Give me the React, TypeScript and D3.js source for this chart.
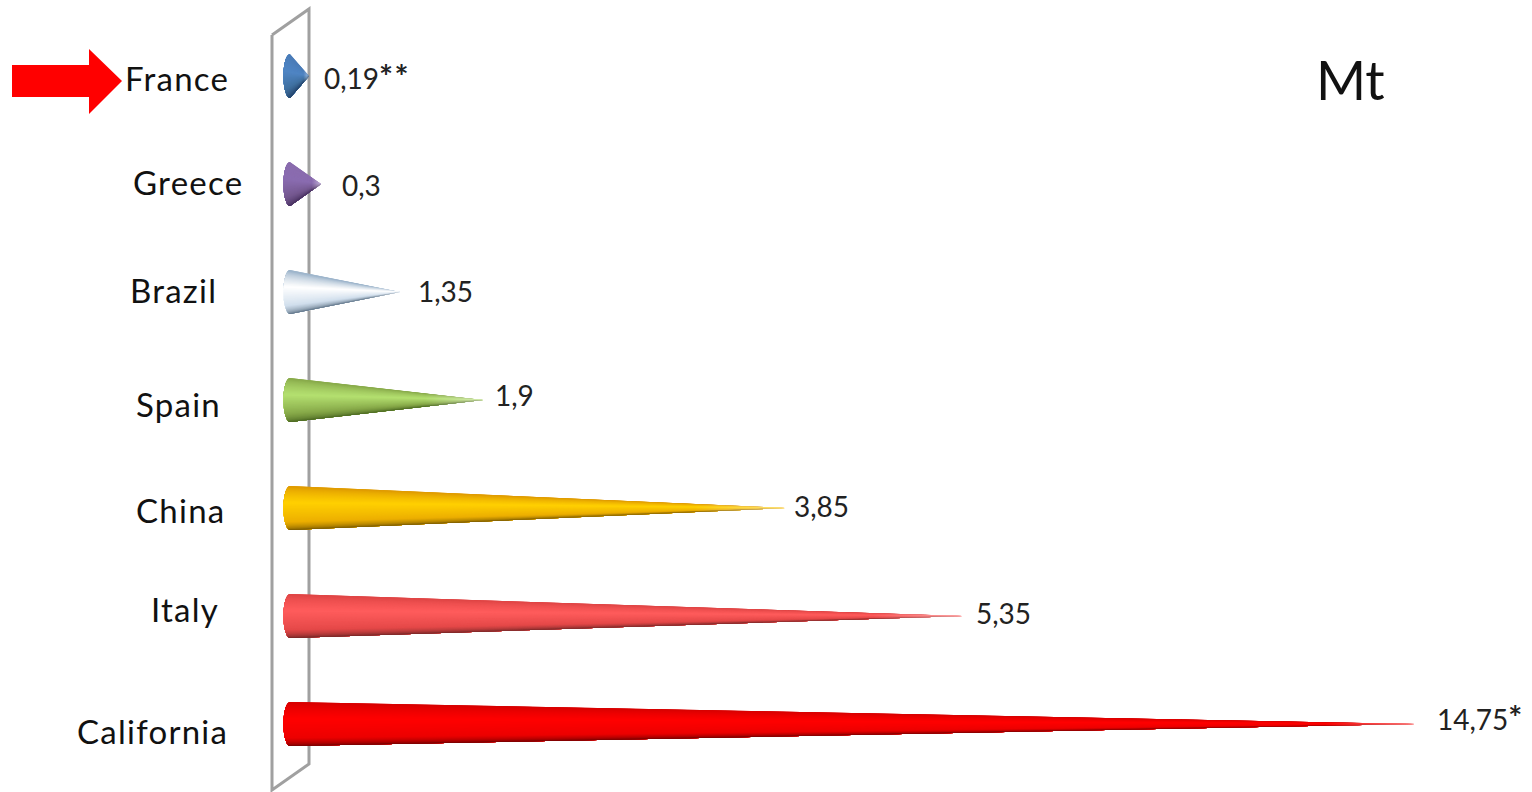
import React from "react";
import * as d3 from "d3";

// Cone bar chart of production in megatonnes.
const categories = ["France", "Greece", "Brazil", "Spain", "China", "Italy", "California"];
const values = [0.19, 0.3, 1.35, 1.9, 3.85, 5.35, 14.75];
const valueLabels = ["0,19**", "0,3", "1,35", "1,9", "3,85", "5,35", "14,75*"];
const unitLabel = "Mt";

// Shade ramps across each cone: upper rim, highlight, body, lower rim.
const coneTop = ["#4a7cb8", "#8a6cae", "#9fb6cc", "#8aac4c", "#e09c00", "#e04646", "#d80000"];
const coneLight = ["#4f85c4", "#8a6cb0", "#ffffff", "#b4e070", "#ffd000", "#ff5c5c", "#ff0000"];
const coneBody = ["#40709f", "#74588f", "#d0deec", "#86a848", "#ecae00", "#e44848", "#ec0000"];
const coneRim = ["#24446c", "#46305e", "#5a6e82", "#46621f", "#6e5200", "#682424", "#680000"];

// The value axis has uneven spacing, so it is calibrated through one stop per category.
const axisStops = [0, ...values];
const axisRange = [290, 309, 321, 400, 483, 785, 962, 1415];

const labelPos = [
  [125, 91], [133, 195], [130, 303], [136, 417], [136, 523], [151, 622], [77, 744],
];
const valuePos = [
  [324, 89], [342, 196], [418, 302], [495, 406], [794, 517], [976, 624], [1437, 730],
];

const FONT = "Lato, 'Open Sans', sans-serif";
const CONE_R = 22;
const CONE_RX = 6.5;
const FAN = 48;

function Cone({ i, x, y }: { i: number; x: d3.ScaleLinear<number, number>; y: d3.ScalePoint<string> }) {
  const cy = y(categories[i]) as number;
  const cx = x(0);
  const tip = x(values[i]);
  const shade = d3
    .scaleLinear<string>()
    .domain([0, 0.1, 0.42, 0.72, 1])
    .range([coneTop[i], coneTop[i], coneLight[i], coneBody[i], coneRim[i]])
    .interpolate(d3.interpolateRgb);
  // Each slice runs on to the lower rim, so the next one paints over it without a seam.
  const rim = d3.range(FAN + 1).map((k) => {
    const a = -Math.PI / 2 + (Math.PI * k) / FAN;
    return [cx - CONE_RX * Math.cos(a), cy + CONE_R * Math.sin(a)] as [number, number];
  });
  const slices = d3.range(FAN).map((k) => ({
    d: d3.line()([[tip, cy], ...rim.slice(k)] as [number, number][]) + "Z",
    color: shade((k + 0.5) / FAN),
  }));
  const maskId = `cone-fade-${i}`;
  const fadeStart = tip - Math.min(90, (tip - cx) * 0.3);
  return (
    <g>
      <defs>
        <linearGradient id={`${maskId}-g`} gradientUnits="userSpaceOnUse" x1={fadeStart} x2={tip} y1={0} y2={0}>
          <stop offset={0} stopColor="#fff" />
          <stop offset={1} stopColor="#888" />
        </linearGradient>
        <mask id={maskId} maskUnits="userSpaceOnUse" x={270} y={cy - 30} width={1200} height={60}>
          <rect x={270} y={cy - 30} width={1200} height={60} fill={`url(#${maskId}-g)`} />
        </mask>
      </defs>
      <g mask={`url(#${maskId})`}>
        {slices.map((s, k) => (
          <path key={k} d={s.d} fill={s.color} />
        ))}
      </g>
    </g>
  );
}

export default function App() {
  const x = d3.scaleLinear().domain(axisStops).range(axisRange);
  const y = d3.scalePoint<string>().domain(categories).range([76, 724]);

  const wall = d3.line()([
    [272, 35], [309, 9], [309, 764], [272, 790], [272, 35],
  ] as [number, number][]) as string;
  const pointer = d3.line()([
    [12, 65], [89, 65], [89, 49], [122, 81], [89, 114], [89, 97], [12, 97],
  ] as [number, number][]) as string;

  return (
    <svg
      width={1532}
      height={792}
      style={{ position: "absolute", left: 0, top: 0, background: "#fff" }}
      fontFamily={FONT}
    >
      <path d={wall} fill="none" stroke="#a0a0a0" strokeWidth={3} />
      {categories.map((_, i) => (
        <Cone key={i} i={i} x={x} y={y} />
      ))}
      <path d={pointer} fill="#ff0000" />
      {categories.map((c, i) => (
        <text key={c} x={labelPos[i][0]} y={labelPos[i][1]} fontSize={33} letterSpacing={1.25} fill="#111">
          {c}
        </text>
      ))}
      {valueLabels.map((v, i) => (
        <text key={v} x={valuePos[i][0]} y={valuePos[i][1]} fontSize={28} fill="#222">
          {v.replace(/\*/g, "")}
          <tspan fontSize={33} fontWeight={700} letterSpacing={1.5}>{v.replace(/[^*]/g, "")}</tspan>
        </text>
      ))}
      <text x={1316} y={100} fontSize={54} fill="#111">
        {unitLabel}
      </text>
    </svg>
  );
}
